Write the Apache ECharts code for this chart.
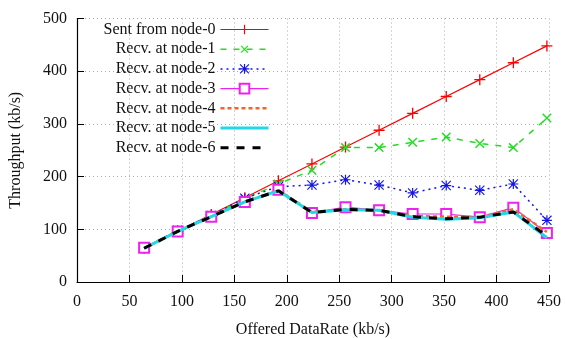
<!DOCTYPE html>
<html>
<head>
<meta charset="utf-8">
<script src="https://cdn.jsdelivr.net/npm/echarts@6/dist/echarts.min.js"></script>
<style>html,body{margin:0;padding:0;background:#fff;}#c{width:565px;height:339px;}</style>
</head>
<body>
<div id="c"></div>
<script>
const offered = [64, 96, 128, 160, 192, 224, 256, 288, 320, 352, 384, 416, 448];
const seriesNames = ['Sent from node-0','Recv. at node-1','Recv. at node-2','Recv. at node-3','Recv. at node-4','Recv. at node-5','Recv. at node-6'];
const node0 = [64, 96, 128, 160, 192, 224, 256, 288, 320, 352, 384, 416, 448];
const node1 = [64, 96, 126, 158, 186, 212, 255, 255, 265, 275, 263, 255, 311];
const node2 = [65, 98, 126, 159, 181, 184, 194, 184, 169, 183, 174, 186, 117];
const node3 = [65, 96, 124, 152, 175, 131, 142, 136, 129, 129, 123, 141, 93];
const node4 = [64, 96, 124, 152, 174, 133, 138, 136, 125, 124, 123, 138, 95];
const node5 = [64, 96, 124, 152, 173, 132, 137, 136, 123, 119, 122, 133, 84];
const node6 = [64, 96, 124, 152, 173, 132, 138, 136, 124, 120, 123, 133, 87];
const xTicks = [0, 50, 100, 150, 200, 250, 300, 350, 400, 450];
const yTicks = [0, 100, 200, 300, 400, 500];

const FONT = 'Liberation Serif';
const pair = arr => offered.map((x, i) => [x, arr[i]]);
const plusPath = 'path://M4.4,0H5.6V10H4.4ZM0,4.4H10V5.6H0Z';
const starPath = 'path://M4.4,0H5.6V10H4.4ZM0,4.4H10V5.6H0ZM0.8,0L10,9.2L9.2,10L0,0.8ZM9.2,0L10,0.8L0.8,10L0,9.2Z';
const blankPath = 'path://M0,0L10,10';

const styles = [
  {color: '#ff0000', width: 1.2, type: 'solid', symbol: plusPath, size: 11},
  {color: '#22dd22', width: 1.5, type: [6, 7], symbol: plusPath, size: 12, rotate: 45},
  {color: '#1515e8', width: 1.5, type: [2, 4], symbol: starPath, size: 10},
  {color: '#ee22ee', width: 1.2, type: 'solid', symbol: 'emptyRect', size: 10},
  {color: '#f26522', width: 2.5, type: [4, 3], symbol: blankPath, size: 0},
  {color: '#22d8e8', width: 3, type: 'solid', symbol: blankPath, size: 0},
  {color: '#000000', width: 3, type: [8, 8], symbol: blankPath, size: 0}
];
const values = [node0, node1, node2, node3, node4, node5, node6];

const chart = echarts.init(document.getElementById('c'), null, {renderer: 'canvas'});

chart.setOption({
  backgroundColor: '#fff',
  animation: false,
  grid: {left: 77, right: 16, top: 18.5, bottom: 57, containLabel: false, outerBoundsMode: 'none'},
  legend: {
    orient: 'vertical', align: 'right', right: 295, top: 21.5, padding: 0,
    itemWidth: 48, itemHeight: 12, itemGap: 3.7,
    textStyle: {fontFamily: FONT, fontSize: 16, color: '#111', lineHeight: 16},
    data: seriesNames.map((n, i) => {
      const it = {name: n, lineStyle: {width: styles[i].width, type: styles[i].type, color: styles[i].color}};
      if (i >= 4) it.itemStyle = {color: 'rgba(0,0,0,0)', borderWidth: 0};
      return it;
    })
  },
  xAxis: {
    type: 'value', min: 0, max: 450, interval: 50,
    name: 'Offered DataRate (kb/s)', nameLocation: 'middle', nameGap: 40,
    nameTextStyle: {fontFamily: FONT, fontSize: 16, color: '#111'},
    axisLine: {lineStyle: {color: '#000', width: 1.2}},
    axisTick: {inside: true, length: 7, lineStyle: {color: '#000'}},
    axisLabel: {fontFamily: FONT, fontSize: 16, color: '#111', margin: 12,
      formatter: v => xTicks.includes(v) ? String(v) : ''},
    splitLine: {show: true, lineStyle: {color: '#aaa', type: [1, 3], width: 1}}
  },
  yAxis: {
    type: 'value', min: 0, max: 500, interval: 100,
    name: 'Throughput (kb/s)', nameLocation: 'middle', nameGap: 53,
    nameTextStyle: {fontFamily: FONT, fontSize: 16, color: '#111'},
    axisLine: {show: true, lineStyle: {color: '#000', width: 1.2}},
    axisTick: {show: true, inside: true, length: 7, lineStyle: {color: '#000'}},
    axisLabel: {fontFamily: FONT, fontSize: 16, color: '#111', margin: 10,
      formatter: v => yTicks.includes(v) ? String(v) : ''},
    splitLine: {show: true, lineStyle: {color: '#aaa', type: [1, 3], width: 1}}
  },
  series: seriesNames.map((n, i) => {
    const s = styles[i];
    const ser = {
      type: 'line', name: n, data: pair(values[i]),
      symbol: s.symbol, symbolSize: s.size, showSymbol: s.symbol !== blankPath,
      symbolRotate: s.rotate || 0,
      lineStyle: {color: s.color, width: s.width, type: s.type},
      itemStyle: {color: s.color, borderWidth: 0},
      animation: false, z: 2 + i
    };
    if (s.symbol === 'emptyRect') ser.itemStyle = {color: s.color, borderColor: s.color, borderWidth: 1.2};
    return ser;
  })
});
</script>
</body>
</html>
